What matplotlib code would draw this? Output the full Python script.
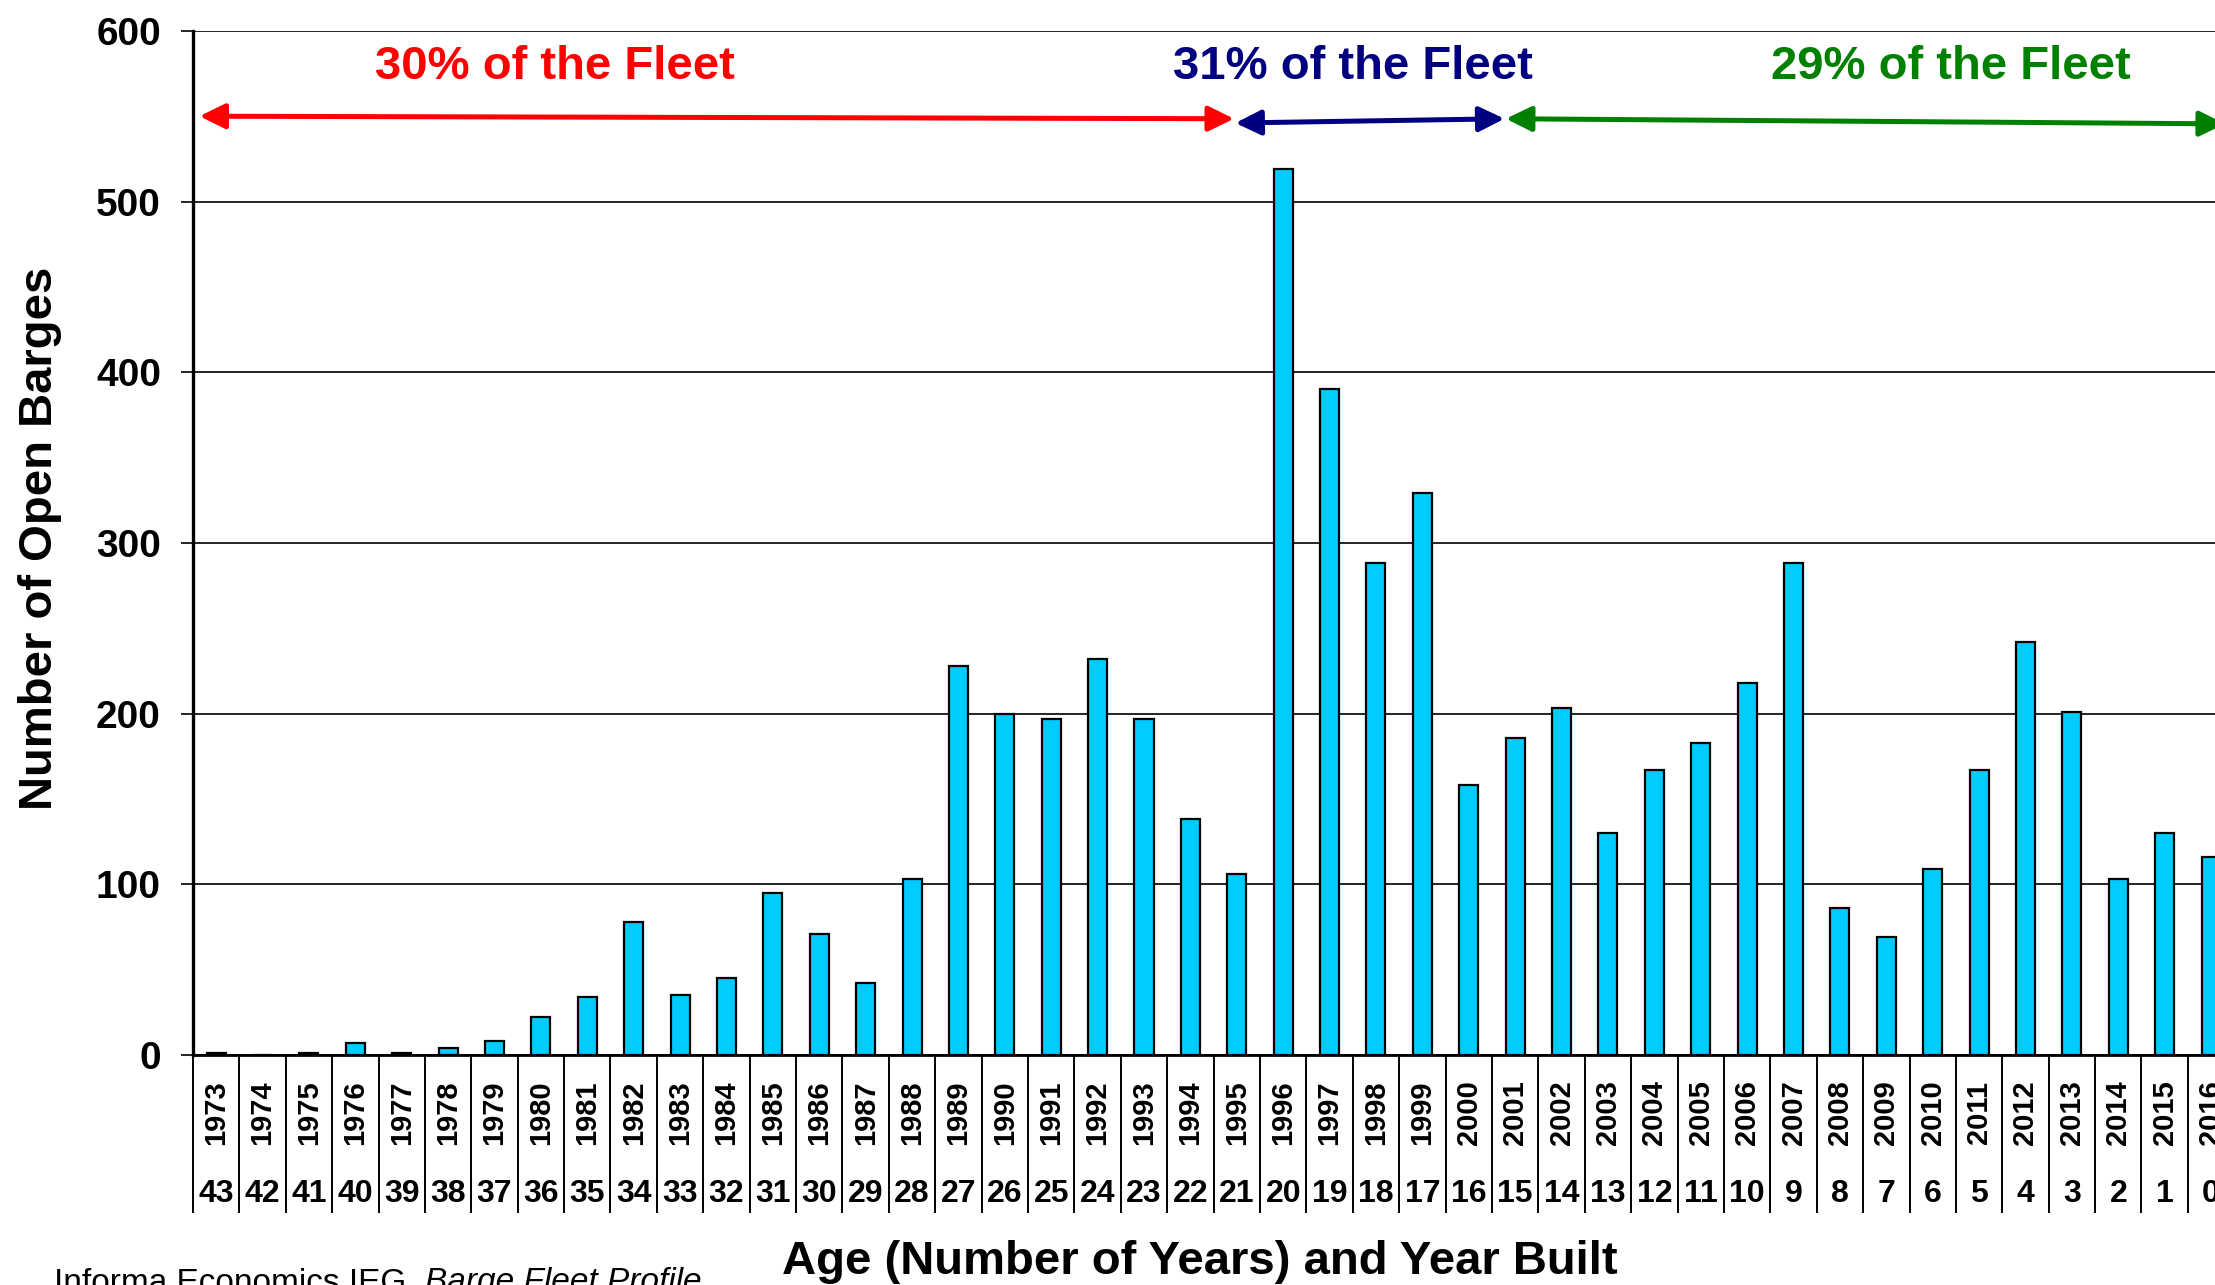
import numpy as np
import matplotlib
matplotlib.use('Agg')
import matplotlib.pyplot as plt
import matplotlib.transforms as mtransforms

years = list(range(1973, 2017))
ages = list(range(43, -1, -1))
barges = [1, 0, 1, 7, 1, 4, 8, 22, 34, 78, 35, 45, 95, 71, 42, 103,
          228, 200, 197, 232, 197, 138, 106, 519, 390, 288, 329, 158,
          186, 203, 130, 167, 183, 218, 288, 86, 69, 109, 167, 242,
          201, 103, 130, 116]

# bandas de la flota: (texto, color, x0, y0, x1, y1, xtexto)
bandas = [('30% of the Fleet', '#FF0000', -0.36, 550, 21.94, 548.5, 7.3),
          ('31% of the Fleet', '#000080', 21.97, 546, 27.77, 548.5, 24.5),
          ('29% of the Fleet', '#008000', 27.8, 548.5, 43.3, 545.5, 37.4)]

plt.rcParams['font.family'] = ['Liberation Sans', 'DejaVu Sans']

fig = plt.figure(figsize=(22.15, 12.85), dpi=100)
ax = fig.add_axes([0.0871, 0.179, 0.9216, 0.797])

x = np.arange(len(years))
ax.bar(x, barges, width=0.41, color='#00CCFF', edgecolor='black', linewidth=1.6, zorder=3)

ax.set_xlim(-0.5, len(years) - 0.5)
ax.set_ylim(0, 600)
ax.set_yticks(range(0, 700, 100))
ax.yaxis.grid(True, color='black', linewidth=1.2, zorder=0)
ax.set_xticks([])
ax.tick_params(axis='y', direction='out', length=9, width=1.2, pad=14,
               labelsize=28)
for lab in ax.get_yticklabels():
    lab.set_fontweight('bold')

ax.spines['top'].set_visible(False)
ax.spines['right'].set_visible(False)
ax.spines['left'].set_linewidth(2.4)
ax.spines['bottom'].set_linewidth(2.0)

# tabla de etiquetas bajo el eje
trans = mtransforms.blended_transform_factory(ax.transData, ax.transAxes)
for i in range(len(years) + 1):
    ax.plot([i - 0.5, i - 0.5], [0, -0.153], color='black', linewidth=1.4,
            transform=trans, clip_on=False)
for i, (yr, ag) in enumerate(zip(years, ages)):
    ax.text(i, -0.0566, str(yr), transform=trans, rotation=90, ha='center',
            va='center', fontsize=21, fontweight='bold')
    ax.text(i, -0.136, str(ag), transform=trans, ha='center', va='center',
            fontsize=23, fontweight='bold')

for texto, col, x0, y0, x1, y1, xt in bandas:
    ax.annotate('', xy=(x1, y1), xytext=(x0, y0),
                arrowprops=dict(arrowstyle='<|-|>,head_length=0.55,head_width=0.27',
                                color=col, lw=3.6, mutation_scale=28,
                                shrinkA=0, shrinkB=0), annotation_clip=False)
    ax.text(xt, 579, texto, color=col, ha='center', va='center',
            fontsize=34, fontweight='bold')

fig.text(40 / 2215, 1 - 538 / 1285, 'Number of Open Barges', rotation=90,
         ha='center', va='center', fontsize=34, fontweight='bold')
fig.text(1200 / 2215, 1 - 1262 / 1285, 'Age (Number of Years) and Year Built',
         ha='center', va='center', fontsize=34, fontweight='bold')

t1 = fig.text(54 / 2215, 1 - 1267 / 1285, 'Informa Economics IEG, ',
              ha='left', va='top', fontsize=24)
r = fig.canvas.get_renderer()
bb = t1.get_window_extent(renderer=r)
fig.text(bb.x1 / fig.bbox.width, 1 - 1267 / 1285, 'Barge Fleet Profile',
         ha='left', va='top', fontsize=24, style='italic')

fig.savefig('out.png', dpi=100)
